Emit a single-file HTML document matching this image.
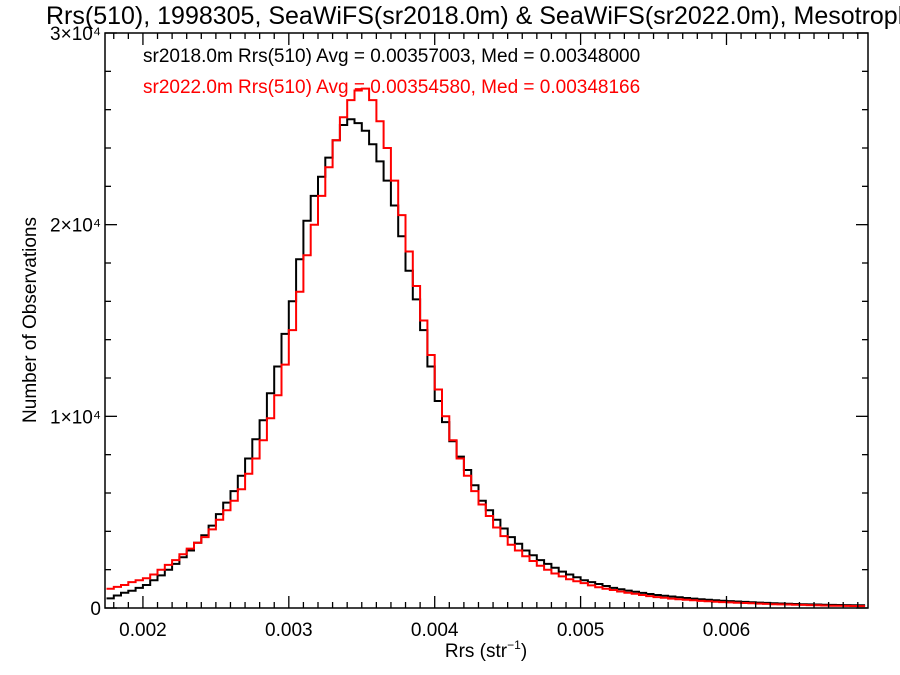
<!DOCTYPE html>
<html><head><meta charset="utf-8"><style>
html,body{margin:0;padding:0;background:#fff;width:900px;height:675px;overflow:hidden}
text{font-family:"Liberation Sans",Arial,sans-serif}
</style></head><body>
<svg id="chart" width="900" height="675" xmlns="http://www.w3.org/2000/svg">
<text x="46" y="24" font-size="25">Rrs(510), 1998305, SeaWiFS(sr2018.0m) &amp; SeaWiFS(sr2022.0m), Mesotrophic</text>
<text x="143" y="62" font-size="19" fill="#000">sr2018.0m Rrs(510) Avg = 0.00357003, Med = 0.00348000</text>
<text x="143" y="93" font-size="19" fill="#ff0000">sr2022.0m Rrs(510) Avg = 0.00354580, Med = 0.00348166</text>
<g id="marks"></g>
<g id="axes"></g>
<text x="486" y="657" font-size="19" text-anchor="middle">Rrs (str<tspan font-size="12" dy="-8">−1</tspan><tspan dy="8">)</tspan></text>
<text transform="translate(36,320) rotate(-90)" font-size="19" text-anchor="middle">Number of Observations</text>
</svg>
<script>
const binStart = 0.00175;
const binWidth = 0.00005;
const sr2018Counts = [500,650,800,900,1050,1200,1450,1700,2000,2300,
2650,3000,3400,3800,4300,4900,5500,6100,6900,7800,
8800,9800,11200,12600,14300,16000,18200,20200,21500,22500,
23500,24400,25200,25500,25300,24900,24200,23300,22300,21000,
19400,17600,16100,14500,12600,10800,9700,8700,7900,7200,
6400,5600,5100,4600,4150,3700,3350,3000,2750,2500,
2300,2100,1900,1750,1600,1450,1350,1250,1150,1050,
980,910,850,790,730,680,640,600,560,520,
490,460,430,400,380,360,340,320,300,280,
265,250,235,220,210,200,190,180,170,160,
155,150,145,140];
const sr2022Counts = [1000,1100,1200,1350,1450,1550,1750,2000,2250,2500,
2800,3100,3400,3700,4100,4600,5100,5600,6200,7000,
7800,8750,9900,11100,12700,14500,16500,18400,20000,21500,
23000,24400,25600,26500,27000,27100,26500,25400,24000,22300,
20500,18600,16800,15000,13200,11400,10000,8750,7800,6900,
6100,5400,4800,4200,3750,3300,3000,2700,2450,2200,
2000,1800,1650,1500,1400,1300,1180,1080,1000,940,
860,800,740,680,620,570,530,490,460,430,
400,370,350,330,310,290,275,260,245,230,
215,200,190,180,170,160,150,140,130,120,
115,110,105,100];
const xTickValues = [0.002,0.003,0.004,0.005,0.006];
const xTickLabels = ["0.002","0.003","0.004","0.005","0.006"];
const yTickValues = [0,10000,20000,30000];
const yTickLabels = ["0","1×10⁴","2×10⁴","3×10⁴"];

const L=105,R=868,T=33,B=608;
const xMin=0.00174,xMax=0.00697,yMax=30000;
const sx=v=>L+(v-xMin)/(xMax-xMin)*(R-L);
const sy=v=>B-v/yMax*(B-T);
const NS="http://www.w3.org/2000/svg";
const marks=document.getElementById('marks');
const axes=document.getElementById('axes');

function stepPath(counts){
  let d="";
  counts.forEach((c,i)=>{
    const x0=Math.max(L,sx(binStart+i*binWidth)), x1=Math.min(R,sx(binStart+(i+1)*binWidth));
    const y=sy(c);
    d+=(i===0?"M":"L")+x0.toFixed(1)+","+y.toFixed(1)+"L"+x1.toFixed(1)+","+y.toFixed(1);
  });
  return d;
}
const p1=document.createElementNS(NS,'path');


p1.setAttribute('d',stepPath(sr2018Counts));
p1.setAttribute('fill','none');p1.setAttribute('stroke','#000');p1.setAttribute('stroke-width','2');
marks.appendChild(p1);
const p2=document.createElementNS(NS,'path');


p2.setAttribute('d',stepPath(sr2022Counts));
p2.setAttribute('fill','none');p2.setAttribute('stroke','#ff0000');p2.setAttribute('stroke-width','2');
marks.appendChild(p2);

const frame=document.createElementNS(NS,'rect');


frame.setAttribute('x',L);frame.setAttribute('y',T);frame.setAttribute('width',R-L);frame.setAttribute('height',B-T);
frame.setAttribute('fill','none');frame.setAttribute('stroke','#000');frame.setAttribute('stroke-width','1.5');
axes.appendChild(frame);

function line(x1,y1,x2,y2,name){
  const l=document.createElementNS(NS,'line');
  
  
  l.setAttribute('x1',x1);l.setAttribute('y1',y1);l.setAttribute('x2',x2);l.setAttribute('y2',y2);
  l.setAttribute('stroke','#000');l.setAttribute('stroke-width','1.3');
  axes.appendChild(l);
}
for(let k=18;k<=69;k++){
  const v=k*0.0001; const x=sx(v);
  if(x<L||x>R) continue;
  const major=(k%10===0); const len=major?12:6;
  line(x,B,x,B-len,'x-tick');
  line(x,T,x,T+len,'x-tick-top');
}
xTickValues.forEach((v,i)=>{
  const t=document.createElementNS(NS,'text');
  
  
  t.setAttribute('x',sx(v));t.setAttribute('y',B+28);t.setAttribute('font-size','19');t.setAttribute('text-anchor','middle');
  t.textContent=xTickLabels[i];axes.appendChild(t);
});
for(let v=0;v<=yMax;v+=2000){
  const y=sy(v); const major=(v%10000===0); const len=major?12:6;
  line(L,y,L+len,y,'y-tick');
  line(R,y,R-len,y,'y-tick-right');
}
yTickValues.forEach((v,i)=>{
  const t=document.createElementNS(NS,'text');
  
  
  t.setAttribute('x',L-4);t.setAttribute('y',sy(v)+7);t.setAttribute('font-size','19');t.setAttribute('text-anchor','end');
  t.textContent=yTickLabels[i];axes.appendChild(t);
});
</script>
</body></html>
